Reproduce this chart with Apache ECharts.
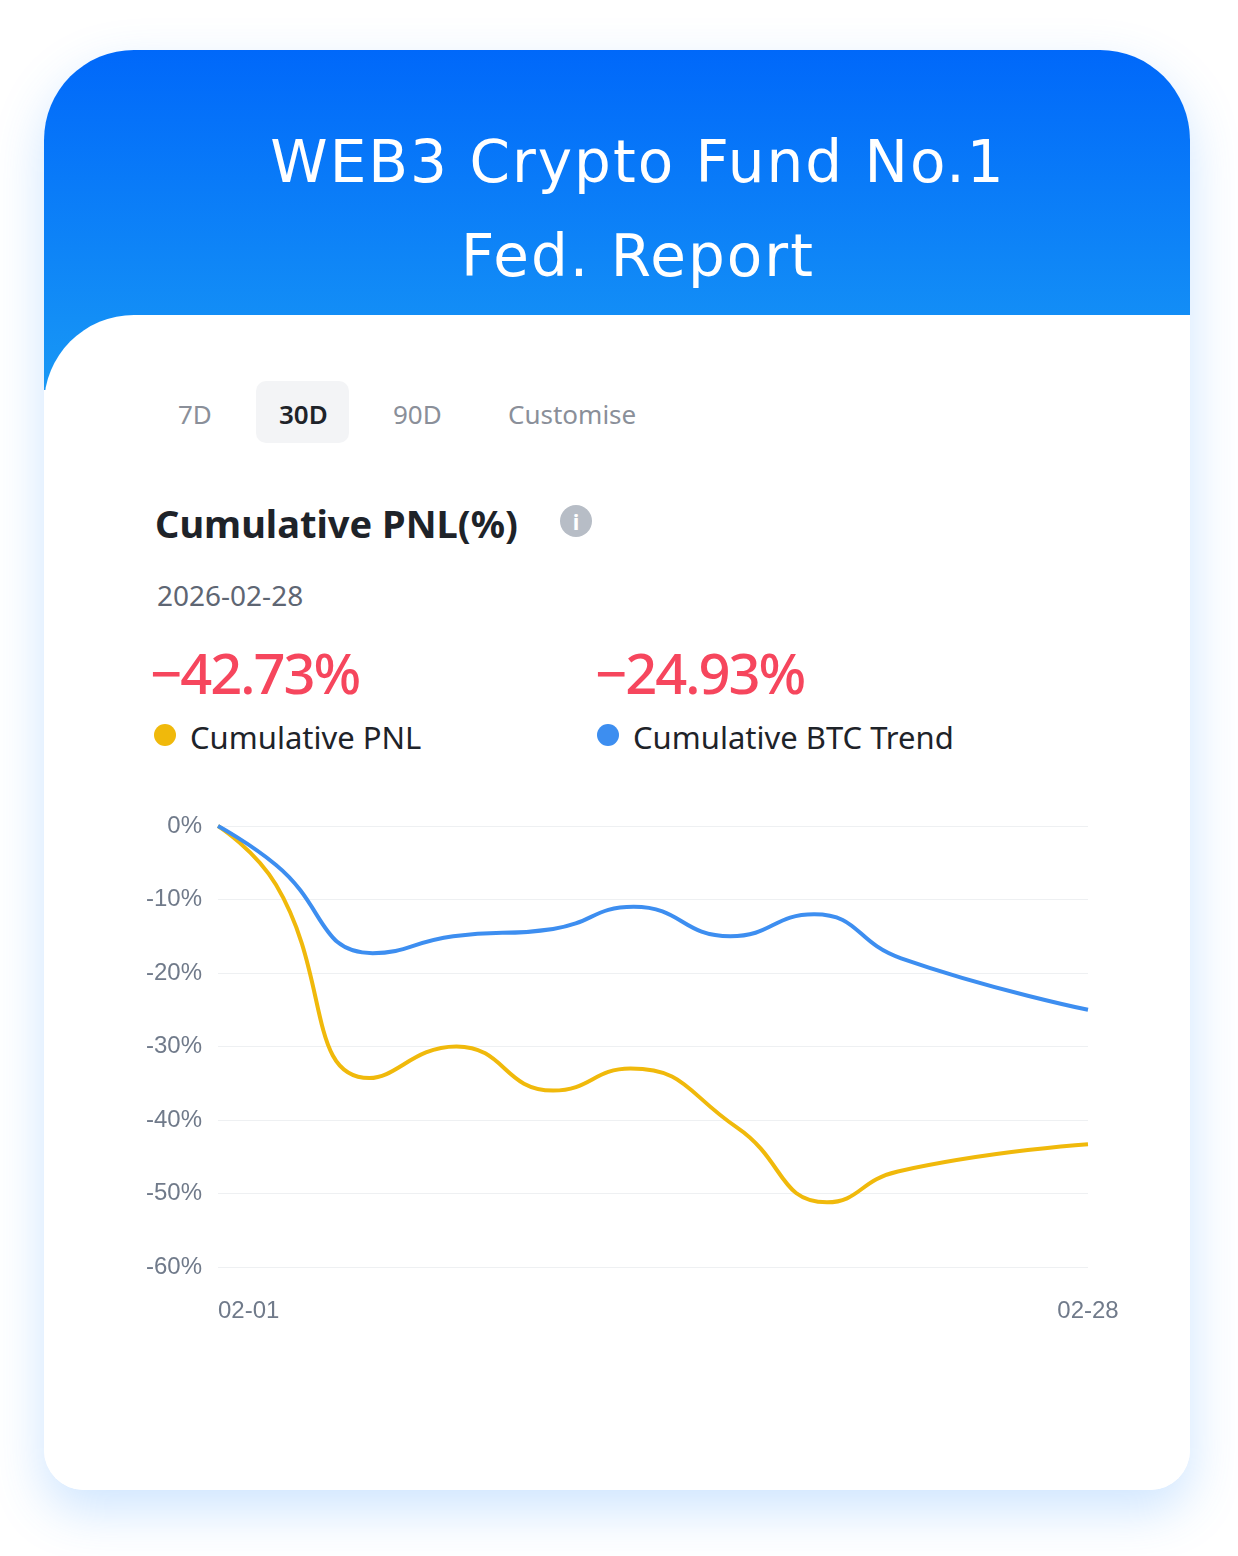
<!DOCTYPE html>
<html><head><meta charset="utf-8">
<script src="https://cdn.jsdelivr.net/npm/echarts@6/dist/echarts.min.js"></script>
<style>
body{margin:0;width:1238px;height:1556px;background:#fff;position:relative;font-family:"Noto Sans",Roboto,sans-serif;overflow:hidden}
.card{position:absolute;left:44px;top:50px;width:1146px;height:1440px;border-radius:90px 90px 40px 40px;background:#fff;box-shadow:0 20px 50px rgba(60,150,255,0.25);overflow:hidden}
.head{position:absolute;left:0;top:0;width:100%;height:340px;background:linear-gradient(#0068fa,#1898f5)}
.panel{position:absolute;left:0;top:265px;width:100%;height:1200px;background:#fff;border-top-left-radius:90px}
.t{position:absolute;white-space:nowrap}
</style></head><body>
<div class="card"><div class="head"></div><div class="panel"></div></div>
<div class="t" style="left:0;width:1276px;text-align:center;top:115px;color:#fff;font-size:58px;font-family:'DejaVu Sans';letter-spacing:2px;line-height:94px">WEB3 Crypto Fund No.1<br>Fed. Report</div>
<div class="t" style="left:256px;top:381px;width:93px;height:62px;border-radius:10px;background:#f3f4f6"></div>
<div class="t" style="left:178px;top:396px;font-size:26px;color:#8a8f99">7D</div>
<div class="t" style="left:279px;top:396px;font-size:26px;color:#1e2329;font-weight:600">30D</div>
<div class="t" style="left:393px;top:396px;font-size:26px;color:#8a8f99">90D</div>
<div class="t" style="left:508px;top:396px;font-size:26px;color:#8a8f99">Customise</div>
<div class="t" style="left:155px;top:497px;font-size:38px;color:#1e2329;font-weight:700">Cumulative PNL(%)</div>
<div class="t" style="left:560px;top:505px;width:32px;height:32px;border-radius:50%;background:#b7bdc6;color:#fff;font-size:22px;font-weight:700;text-align:center;line-height:32px">i</div>
<div class="t" style="left:157px;top:576px;font-size:28px;color:#5e6673">2026-02-28</div>
<div class="t" style="left:150px;top:634px;font-size:56px;color:#f6465d;font-weight:500;letter-spacing:-2px">−42.73%</div>
<div class="t" style="left:595px;top:634px;font-size:56px;color:#f6465d;font-weight:500;letter-spacing:-2px">−24.93%</div>
<div class="t" style="left:154px;top:724px;width:22px;height:22px;border-radius:50%;background:#f0b90b"></div>
<div class="t" style="left:190px;top:716px;font-size:31px;color:#1e2329">Cumulative PNL</div>
<div class="t" style="left:597px;top:724px;width:22px;height:22px;border-radius:50%;background:#3d8ef0"></div>
<div class="t" style="left:633px;top:716px;font-size:31px;color:#1e2329">Cumulative BTC Trend</div>
<div id="c" style="position:absolute;left:0;top:780px;width:1238px;height:600px"></div>
<script>
const pnlDays=[1,2.8,5.7,8.4,11.4,13.8,17.1,19.9,22.1,28];
const pnlVals=[0,-8,-34.3,-30,-36,-33,-41,-51.2,-47,-43.3];
const btcDays=[1,2.8,5.8,8.3,11.4,13.9,16.9,19.5,22.2,28];
const btcVals=[0,-5.3,-17.3,-15,-14,-11,-15,-12,-18,-25];
const yTicks=[0,-10,-20,-30,-40,-50,-60];
const c=echarts.init(document.getElementById('c'));
const pair=(d,v)=>d.map((x,i)=>[x,v[i]]);
c.setOption({
 animation:false,
 grid:{left:218,right:150,top:46,bottom:113},
 xAxis:{type:'value',min:1,max:28,interval:27,axisLine:{show:false},axisTick:{show:false},splitLine:{show:false},
  axisLabel:{fontSize:24,color:'#707a8a',margin:32,formatter:v=>v==1?'02-01':'02-28',alignMinLabel:'left'}},
 yAxis:{type:'value',min:-60,max:0,interval:10,axisLabel:{fontSize:24,color:'#707a8a',margin:16,formatter:v=>v+'%'},
  splitLine:{lineStyle:{color:'#eef0f2'}},axisLine:{show:false},axisTick:{show:false}},
 series:[
  {type:'line',data:pair(pnlDays,pnlVals),smooth:0.5,showSymbol:false,lineStyle:{color:'#f0b90b',width:4}},
  {type:'line',data:pair(btcDays,btcVals),smooth:0.5,showSymbol:false,lineStyle:{color:'#3d8ef0',width:4}}
 ]});
</script></body></html>
